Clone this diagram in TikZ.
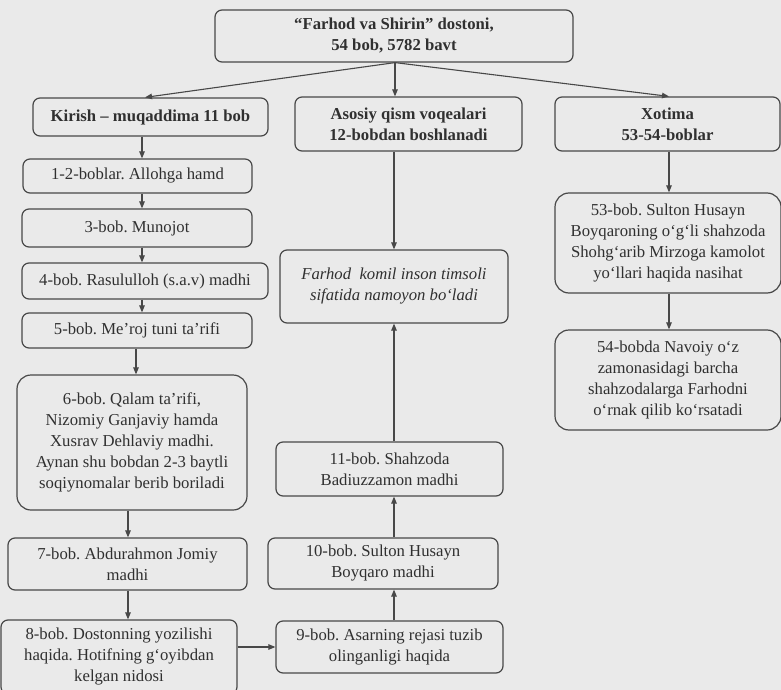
\documentclass[tikz,border=0pt]{standalone}
\usepackage{fontspec}
\setmainfont{Liberation Serif}
\usetikzlibrary{arrows.meta,calc}
\definecolor{bgc}{RGB}{234,234,234}
\definecolor{inkc}{RGB}{48,48,48}
\definecolor{linec}{RGB}{72,72,72}
\frenchspacing
\begin{document}
\begin{tikzpicture}[x=1pt,y=-1pt,
  box/.style={draw=linec, line width=1.2pt, rounded corners=7pt, inner sep=0pt,
    align=center, text=inkc, font=\fontsize{16.7}{21}\selectfont},
  bigbox/.style={box, rounded corners=14pt},
  bbox/.style={box, font=\fontsize{16.7}{21}\selectfont\bfseries},
  arr/.style={draw=linec, line width=1.1pt, -{Triangle[length=7pt,width=5.5pt]}}]
\useasboundingbox[fill=bgc] (0,0) rectangle (781,690);
% top
\node[bbox, minimum width=358pt, minimum height=52pt] (title) at (394,36)
  {“Farhod va Shirin” dostoni,\\54 bob, 5782 bavt};
\node[bbox, minimum width=235pt, minimum height=38pt] (kir) at (150.5,117)
  {Kirish – muqaddima 11 bob};
\node[bbox, minimum width=227pt, minimum height=54pt] (aso) at (408.5,124)
  {Asosiy qism voqealari\\12-bobdan boshlanadi};
\node[bbox, minimum width=225pt, minimum height=54pt] (xot) at (667.5,124)
  {Xotima\\53-54-boblar};
% left column
\node[box, minimum width=229pt, minimum height=34pt] (b12) at (137.5,176) {1-2-boblar. Allohga hamd};
\node[box, minimum width=230pt, minimum height=38pt] (b3) at (137,228) {3-bob. Munojot};
\node[box, minimum width=246pt, minimum height=36pt] (b4) at (145,281) {4-bob. Rasululloh (s.a.v) madhi};
\node[box, minimum width=230pt, minimum height=35pt] (b5) at (137,330.5) {5-bob. Me’roj tuni ta’rifi};
\node[bigbox, minimum width=230pt, minimum height=135pt] (b6) at (132,442.5)
  {6-bob. Qalam ta’rifi,\\Nizomiy Ganjaviy hamda\\Xusrav Dehlaviy madhi.\\Aynan shu bobdan 2-3 baytli\\soqiynomalar berib boriladi};
\node[box, minimum width=239pt, minimum height=52pt] (b7) at (127.5,564) {7-bob. Abdurahmon Jomiy\\madhi};
\node[box, minimum width=236pt, minimum height=74pt] (b8) at (119,657)
  {8-bob. Dostonning yozilishi\\haqida. Hotifning g‘oyibdan\\kelgan nidosi};
% middle column
\node[box, minimum width=228pt, minimum height=73pt, font=\fontsize{16.7}{21}\selectfont\itshape] (fk) at (394,286.5)
  {Farhod\ \ komil inson timsoli\\sifatida namoyon bo‘ladi};
\node[box, minimum width=227pt, minimum height=54pt] (b11) at (389.5,469) {11-bob. Shahzoda\\Badiuzzamon madhi};
\node[box, minimum width=230pt, minimum height=51pt] (b10) at (383,563.5) {10-bob. Sulton Husayn\\Boyqaro madhi};
\node[box, minimum width=227pt, minimum height=52pt] (b9) at (389.5,647) {9-bob. Asarning rejasi tuzib\\olinganligi haqida};
% right column
\node[bigbox, minimum width=226pt, minimum height=100pt] (b53) at (668,243)
  {53-bob. Sulton Husayn\\Boyqaroning o‘g‘li shahzoda\\Shohg‘arib Mirzoga kamolot\\yo‘llari haqida nasihat};
\node[bigbox, minimum width=226pt, minimum height=100pt] (b54) at (668,380)
  {54-bobda Navoiy o‘z\\zamonasidagi barcha\\shahzodalarga Farhodni\\o‘rnak qilib ko‘rsatadi};
% helper coordinates for arrow columns
\coordinate (la) at (142,0);
\coordinate (lb) at (136,0);
\coordinate (lc) at (128,0);
\coordinate (ma) at (395,0);
\coordinate (ra) at (669,0);
\coordinate (kt) at (145,0);
% arrows from title
\draw[arr] (title.south -| ma) -- (kir.north -| kt);
\draw[arr] (title.south -| ma) -- (aso.north -| ma);
\draw[arr] (title.south -| ma) -- (xot.north -| ra);
% left column arrows
\draw[arr] (kir.south -| la) -- (b12.north -| la);
\draw[arr] (b12.south -| la) -- (b3.north -| la);
\draw[arr] (b3.south -| la) -- (b4.north -| la);
\draw[arr] (b4.south -| la) -- (b5.north -| la);
\draw[arr] (b5.south -| lb) -- (b6.north -| lb);
\draw[arr] (b6.south -| lc) -- (b7.north -| lc);
\draw[arr] (b7.south -| lc) -- (b8.north -| lc);
\draw[arr] (b8.east |- b9.west) -- (b9.west);
% middle column arrows
\draw[arr] (aso.south -| fk.north) -- (fk.north);
\draw[arr] (b11.north -| fk.south) -- (fk.south);
\draw[arr] (b10.north -| fk.south) -- (b11.south -| fk.south);
\draw[arr] (b9.north -| fk.south) -- (b10.south -| fk.south);
% right column arrows
\draw[arr] (xot.south -| ra) -- (b53.north -| ra);
\draw[arr] (b53.south -| ra) -- (b54.north -| ra);
\end{tikzpicture}
\end{document}
